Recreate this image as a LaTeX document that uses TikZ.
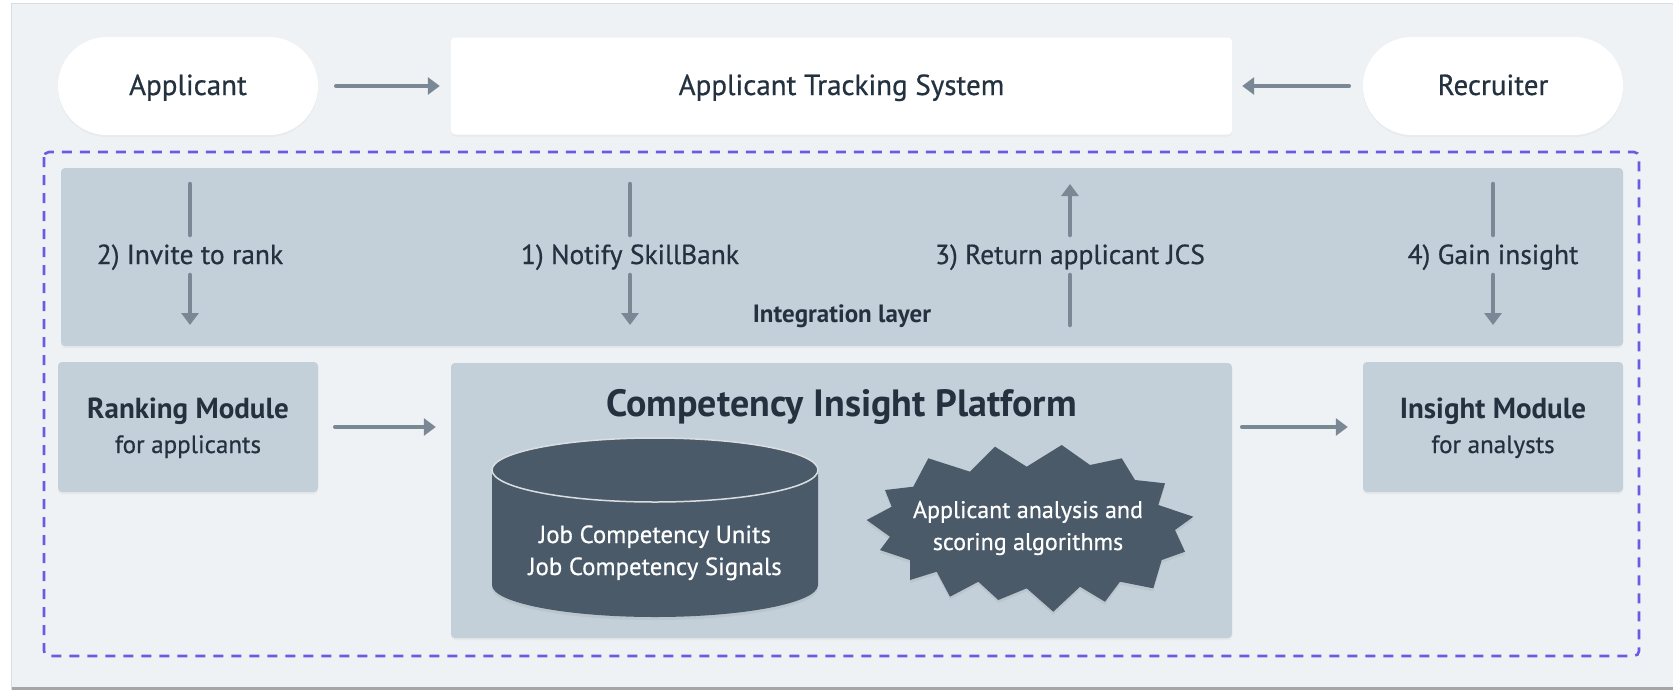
\documentclass[tikz,border=0pt]{standalone}
\usepackage{fontspec}
\setmainfont{PT Sans}[UprightFeatures={FakeBold=0.6}]
\usetikzlibrary{arrows.meta,shadows,calc}
\definecolor{panelc}{HTML}{EEF2F5}
\definecolor{boxc}{HTML}{C3CFD9}
\definecolor{slatec}{HTML}{4A5A69}
\definecolor{inkc}{HTML}{243240}
\definecolor{arrowc}{HTML}{7A8896}
\definecolor{dashc}{HTML}{6A5BE2}
\definecolor{edgec}{HTML}{D9DDE1}
\tikzset{
  pill/.style={fill=white, rounded corners=49pt, minimum width=260pt, minimum height=98pt, drop shadow={opacity=0.06, shadow xshift=0pt, shadow yshift=-2pt}},
  whitebox/.style={fill=white, rounded corners=4pt, minimum width=781pt, minimum height=97pt, drop shadow={opacity=0.06, shadow xshift=0pt, shadow yshift=-2pt}},
  graybox/.style={fill=boxc, rounded corners=4pt, drop shadow={opacity=0.08, shadow xshift=0pt, shadow yshift=-2pt}},
  txt/.style={text=inkc, inner sep=0pt, anchor=base},
  toplabel/.style={txt, font=\fontsize{29}{34}\selectfont},
  steplabel/.style={txt, font=\fontsize{27.5}{32}\selectfont},
  modtitle/.style={txt, font=\bfseries\fontsize{29}{34}\selectfont},
  modsub/.style={txt, font=\fontsize{25}{30}\selectfont},
  intxt/.style={text=white, inner sep=0pt, anchor=base, font=\fontsize{24}{28}\selectfont},
  flow/.style={draw=arrowc, line width=4.5pt, line cap=round, -{Triangle[length=12pt,width=17pt]}},
  flowline/.style={draw=arrowc, line width=4.5pt, line cap=round},
}
\begin{document}
\begin{tikzpicture}[x=1pt,y=-1pt]
\useasboundingbox (0,0) rectangle (1673,691);
\fill[white] (0,0) rectangle (1673,691);
% outer panel
\fill[edgec] (11,3) rectangle (1673,690);
\fill[gray!70] (12,686) rectangle (1673,690);
\fill[panelc] (12,4) rectangle (1673,687);

% top row
\node[pill] (applicant) at (188,86) {};
\node[whitebox] (ats) at (841.5,86) {};
\node[pill] (recruiter) at (1493,86) {};
\node[toplabel] (applicanttxt) at (188,95) {Applicant};
\node[toplabel] (atstxt) at (841.5,95) {Applicant Tracking System};
\node[toplabel] (recruitertxt) at (1493,95) {Recruiter};
\draw[flow, shorten <=18pt, shorten >=11pt] (applicant.east) -- (ats.west);
\draw[flow, shorten <=14pt, shorten >=10pt] (recruiter.west) -- (ats.east);

% dashed boundary
\draw[dashc, line width=2.6pt, dash pattern=on 10pt off 8pt, rounded corners=5pt] (44,152) rectangle (1639,656);

% integration layer
\node[graybox, minimum width=1562pt, minimum height=178pt] (integ) at (842,257) {};
\node[txt, font=\bfseries\fontsize{25}{29}\selectfont] (integlabel) at (842,322) {Integration layer};

% step labels and arrows
\node[steplabel] (s2) at (190,264) {2) Invite to rank};
\node[steplabel] (s1) at (630,264) {1) Notify SkillBank};
\node[steplabel] (s3) at (1070,264) {3) Return applicant JCS};
\node[steplabel] (s4) at (1493,264) {4) Gain insight};
\foreach \n/\x in {s2/190, s1/630, s3/1070, s4/1493}{
  \coordinate (\n top) at (\x,184);
  \coordinate (\n up) at (\x,235);
  \coordinate (\n down) at (\x,275);
  \coordinate (\n bot) at (\x,325);
}
\draw[flowline] (s2top) -- (s2up);
\draw[flow] (s2down) -- (s2bot);
\draw[flowline] (s1top) -- (s1up);
\draw[flow] (s1down) -- (s1bot);
\draw[flow] (s3up) -- (s3top);
\draw[flowline] (s3down) -- (s3bot);
\draw[flowline] (s4top) -- (s4up);
\draw[flow] (s4down) -- (s4bot);

% modules
\node[graybox, minimum width=260pt, minimum height=130pt] (ranking) at (188,427) {};
\node[modtitle] (rankingtitle) at (188,418) {Ranking Module};
\node[modsub] (rankingsub) at (188,453) {for applicants};
\node[graybox, minimum width=260pt, minimum height=130pt] (insight) at (1493,427) {};
\node[modtitle] (insighttitle) at (1493,418) {Insight Module};
\node[modsub] (insightsub) at (1493,453) {for analysts};
\node[graybox, minimum width=781pt, minimum height=275pt] (cip) at (841.5,500.5) {};
\node[txt, font=\bfseries\fontsize{38}{44}\selectfont] (ciptitle) at (841.5,416) {Competency Insight Platform};

\draw[flow, shorten <=17pt, shorten >=15pt] (ranking.east) -- (cip.west |- ranking.east);
\draw[flow, shorten <=10pt, shorten >=15pt] (cip.east |- insight.west) -- (insight.west);

% cylinder
\fill[slatec, drop shadow={opacity=0.12, shadow xshift=0pt, shadow yshift=-3pt}]
  (492,470) -- (492,585) arc[start angle=180, end angle=0, x radius=163, y radius=32]
  -- (818,470) arc[start angle=0, end angle=-180, x radius=163, y radius=32] -- cycle;
\draw[white!80!slatec, line width=1.5pt] (655,470) ellipse [x radius=163, y radius=32];
\node[intxt, font=\fontsize{24.8}{29}\selectfont] (db1) at (655,543) {Job Competency Units};
\node[intxt, font=\fontsize{24.8}{29}\selectfont] (db2) at (655,575) {Job Competency Signals};

% starburst
\fill[slatec, drop shadow={opacity=0.12, shadow xshift=0pt, shadow yshift=-3pt}]
  (866.7,520) -- (891.7,506.7) -- (885,490) -- (913.3,486.7) -- (928.3,458.3) -- (970,471.7)
  -- (995,446.7) -- (1026.7,466.7) -- (1061.7,445) -- (1090,465) -- (1121.7,458.3) -- (1135,480)
  -- (1165,483.3) -- (1158.3,505) -- (1193.3,516.7) -- (1175,530) -- (1185,551.7) -- (1161.7,560)
  -- (1153.3,588.3) -- (1120,581.7) -- (1105,601.7) -- (1080,586.7) -- (1053.3,611.7) -- (1026.7,588.3)
  -- (998.3,600) -- (978.3,581.7) -- (950,596.7) -- (936.7,571.7) -- (910,580) -- (910,560)
  -- (880,550) -- (890,536.7) -- cycle;
\node[intxt] (algo1) at (1028,518) {Applicant analysis and};
\node[intxt] (algo2) at (1028,550) {scoring algorithms};
\end{tikzpicture}
\end{document}
